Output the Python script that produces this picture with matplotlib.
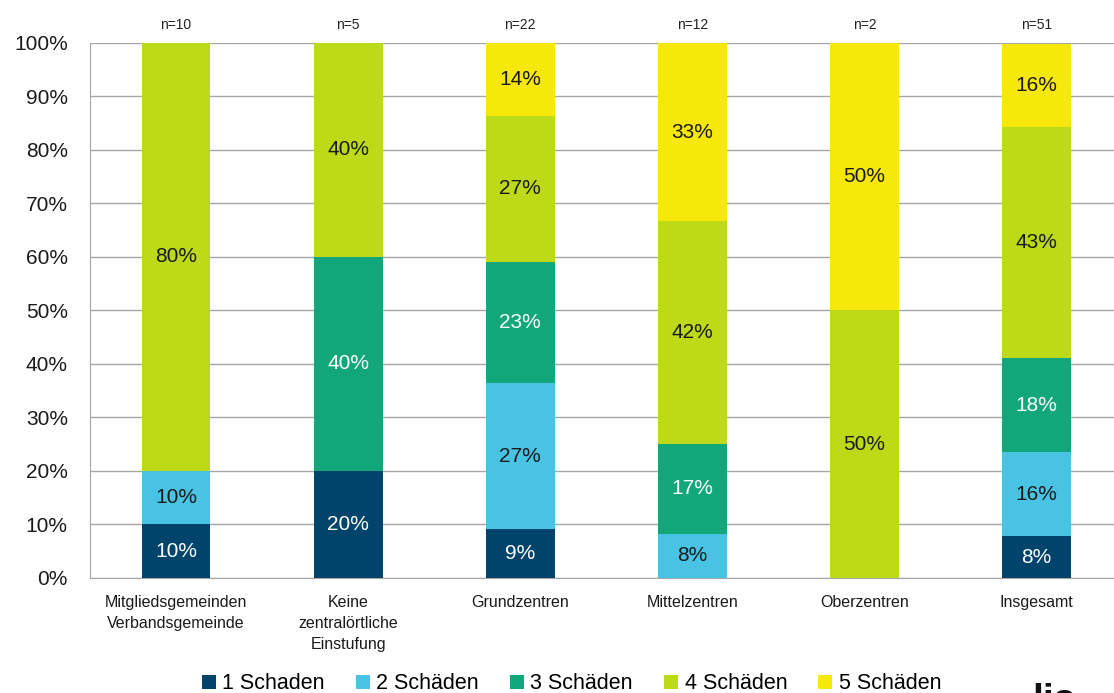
import matplotlib
matplotlib.use("Agg")
import matplotlib.pyplot as plt
import numpy as np

# ===== Daten =====
categories = ["Mitgliedsgemeinden\nVerbandsgemeinde", "Keine\nzentralörtliche\nEinstufung",
              "Grundzentren", "Mittelzentren", "Oberzentren", "Insgesamt"]
n_labels = ["n=10", "n=5", "n=22", "n=12", "n=2", "n=51"]
series_names = ["1 Schaden", "2 Schäden", "3 Schäden", "4 Schäden", "5 Schäden"]

# Anteile in %
s1 = [10.0, 20.0, 9.1, 0.0, 0.0, 7.8]
s2 = [10.0, 0.0, 27.3, 8.3, 0.0, 15.7]
s3 = [0.0, 40.0, 22.7, 16.7, 0.0, 17.6]
s4 = [80.0, 40.0, 27.3, 41.7, 50.0, 43.1]
s5 = [0.0, 0.0, 13.6, 33.3, 50.0, 15.7]

colors = ["#00446B", "#48C3E3", "#12A77A", "#BCDA17", "#F6E80A"]
text_colors = ["white", "#1a1a1a", "white", "#1a1a1a", "#1a1a1a"]

plt.rcParams["font.family"] = ["Liberation Sans", "DejaVu Sans"]

fig = plt.figure(figsize=(11.14, 6.93), dpi=100)
ax = fig.add_axes([0.0808, 0.166, 0.9192, 0.772])

x = np.arange(len(categories))
bottom = np.zeros(len(categories))
handles = []
for vals, col, tcol, name in zip([s1, s2, s3, s4, s5], colors, text_colors, series_names):
    vals = np.array(vals)
    b = ax.bar(x, vals, width=0.40, bottom=bottom, color=col, label=name, zorder=3)
    handles.append(b)
    for xi, v, bt in zip(x, vals, bottom):
        if v > 0:
            ax.text(xi, bt + v / 2, f"{v:.0f}%", ha="center", va="center",
                    color=tcol, fontsize=15, zorder=4)
    bottom += vals

for xi, lab in zip(x, n_labels):
    ax.text(xi, 103.4, lab, ha="center", va="center", fontsize=10, color="#222222")

ax.set_xlim(-0.5, 5.45)
ax.set_ylim(0, 100)
ax.set_yticks(np.arange(0, 101, 10))
ax.set_yticklabels([f"{t}%" for t in range(0, 101, 10)], fontsize=15, color="#1a1a1a")
ax.set_xticks(x)
ax.set_xticklabels(categories, fontsize=11.5, color="#1a1a1a", linespacing=1.5)
ax.tick_params(axis="both", length=0)
ax.tick_params(axis="x", pad=12)
ax.tick_params(axis="y", pad=16)

ax.grid(axis="y", color="#A6A6A6", linewidth=1.0, zorder=0)
for sp in ["top", "right"]:
    ax.spines[sp].set_visible(False)
ax.spines["left"].set_color("#A6A6A6")
ax.spines["bottom"].set_color("#A6A6A6")

fig.legend(handles=handles, labels=series_names, loc="center", ncol=5,
           bbox_to_anchor=(0.513, 0.013), frameon=False, fontsize=15.5,
           handlelength=0.65, handleheight=0.65, handletextpad=0.3, columnspacing=1.45)

# abgeschnittenes Logo unten rechts
fig.text(0.927, -0.038, "lis", fontsize=28, fontweight="bold", color="#111111",
         ha="left", va="bottom")

fig.savefig("out.png", dpi=100)
